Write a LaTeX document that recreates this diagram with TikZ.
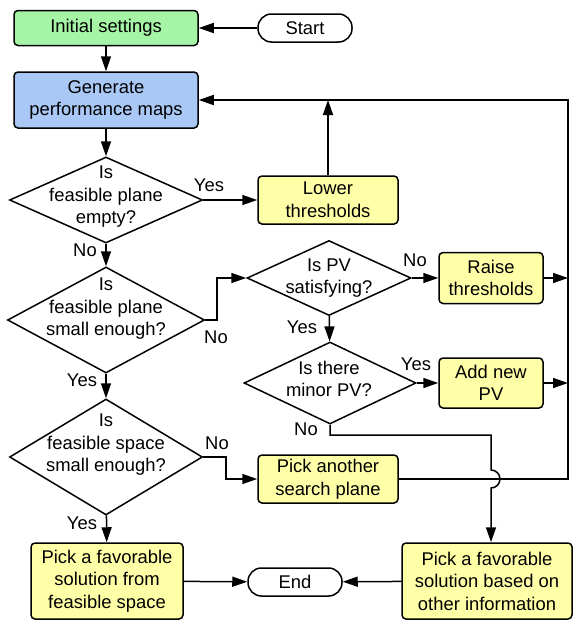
\documentclass[tikz,border=0pt]{standalone}
\usepackage{fontspec}
\setmainfont{Liberation Sans}
\usepackage{xcolor}
\usepackage{tikz}
\usetikzlibrary{shapes, arrows.meta, positioning}

\definecolor{initgreen}{HTML}{A6F5A6}
\definecolor{mapblue}{HTML}{A9C8F5}
\definecolor{stepyellow}{HTML}{FFFFA8}

\begin{document}
\begin{tikzpicture}[x=1pt, y=-1pt, line width=1.5pt,
            font=\fontsize{18.4}{22.5}\selectfont,
            box/.style={draw, rectangle, rounded corners=4pt, fill=stepyellow, align=center, inner sep=0pt},
            term/.style={draw, rectangle, rounded corners=13.5pt, fill=white, inner sep=0pt},
            dec/.style={draw, diamond, fill=white, inner sep=0pt},
            qtext/.style={align=center, inner sep=0pt},
            lbl/.style={inner sep=0pt},
            arr/.style={-{Triangle[length=15pt, width=10pt]}}]
            \useasboundingbox[fill=white] (0,0) rectangle (573,621);

            \node[box, fill=initgreen, minimum width=184pt, minimum height=35pt] (init) at (106,28) {Initial settings};
            \node[term, minimum width=94pt, minimum height=28pt] (start) at (305,28) {Start};
            \node[box, fill=mapblue, minimum width=184pt, minimum height=56pt] (gen) at (106,100) {Generate\\performance maps};

            \node[dec, minimum width=193pt, minimum height=86pt] (d1) at (106,200) {};
            \node[qtext] (d1t) at (106,197) {Is\\feasible plane\\empty?};
            \node[box, minimum width=140pt, minimum height=48pt] (low) at (328,200) {Lower\\thresholds};

            \node[dec, minimum width=197pt, minimum height=106pt] (d2) at (106,320) {};
            \node[qtext] (d2t) at (106,309) {Is\\feasible plane\\small enough?};

            \node[dec, minimum width=164pt, minimum height=75pt] (d3) at (329,278) {};
            \node[qtext] (d3t) at (329,278) {Is PV\\satisfying?};
            \node[box, minimum width=104pt, minimum height=51pt] (raise) at (491,278) {Raise\\thresholds};

            \node[dec, minimum width=172pt, minimum height=82pt] (d4) at (330,383) {};
            \node[qtext] (d4t) at (329,379) {Is there\\minor PV?};
            \node[box, minimum width=104pt, minimum height=50pt] (add) at (491,383) {Add new\\PV};

            \node[dec, minimum width=193pt, minimum height=116pt] (d5) at (106,457) {};
            \node[qtext] (d5t) at (106,445) {Is\\feasible space\\small enough?};
            \node[box, minimum width=140pt, minimum height=48pt] (pick) at (328,479) {Pick another\\search plane};

            \node[box, minimum width=152pt, minimum height=76pt] (solL) at (107,581) {Pick a favorable\\solution from\\feasible space};
            \node[term, minimum width=94pt, minimum height=28pt] (end) at (295,582) {End};
            \node[box, minimum width=170pt, minimum height=76pt] (solR) at (487,581) {Pick a favorable\\solution based on\\other information};

            \coordinate (rtop) at (568,100);
            \coordinate (rbot) at (568,479);
            \coordinate (jump) at (491,470);

            \node[lbl] (l1) at (209,185) {Yes};
            \node[lbl] (l2) at (85,250) {No};
            \node[lbl] (l3) at (216,337) {No};
            \node[lbl] (l4) at (415,260) {No};
            \node[lbl] (l5) at (302,327) {Yes};
            \node[lbl] (l6) at (416,364) {Yes};
            \node[lbl] (l7) at (82,380) {Yes};
            \node[lbl] (l8) at (306,429) {No};
            \node[lbl] (l9) at (217,443) {No};
            \node[lbl] (l10) at (82,523) {Yes};

            \draw[arr] (start) -- (init);
            \draw[arr] (init) -- (gen);
            \draw[arr] (gen) -- (d1);
            \draw[arr] (d1) -- (low);
            \draw[arr] (low) -- (low.north |- gen.east);
            \draw[arr] (pick) -- (rbot) -- (rtop) -- (gen);
            \draw[arr] (d1) -- (d2);
            \draw[arr] (d2.east) -- (217,320) -- (217,278) -- (d3.west);
            \draw[arr] (d3) -- (raise);
            \draw[arr] (raise) -- (raise.east -| rtop);
            \draw[arr] (d3) -- (d4);
            \draw[arr] (d4) -- (add);
            \draw[arr] (add) -- (add.east -| rtop);
            \draw[arr] (d4.south) -- (330,435) -- (491,435) -- (jump) arc[start angle=90, end angle=-90, radius=9pt] -- (solR.north -| jump);
            \draw[arr] (d2) -- (d5);
            \draw[arr] (d5.east) -- (226,457) -- (226,479) -- (pick.west);
            \draw[arr] (d5) -- (solL);
            \draw[arr] (solL) -- (end);
            \draw[arr] (solR) -- (end);
        \end{tikzpicture}
\end{document}
